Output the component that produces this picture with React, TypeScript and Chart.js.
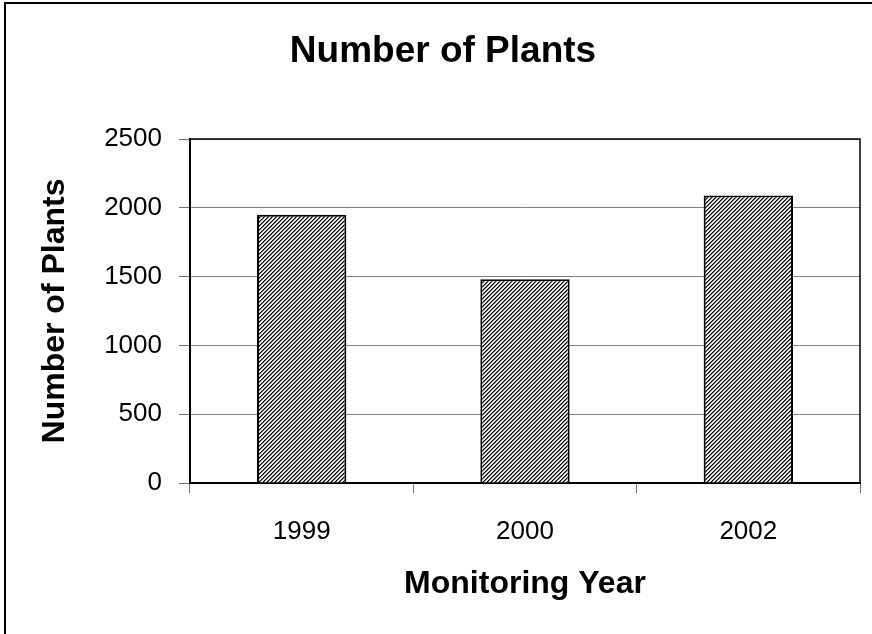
import React, { useEffect, useRef } from "react";
import { Chart, registerables } from "chart.js";

Chart.register(...registerables);

const categories = ["1999", "2000", "2002"];
const plantCounts = [1950, 1480, 2090];
const yTicks = [0, 500, 1000, 1500, 2000, 2500];
const chartTitle = "Number of Plants";
const yTitle = "Number of Plants";
const xTitle = "Monitoring Year";

function makePattern(): CanvasPattern | string {
  const c = document.createElement("canvas");
  c.width = 4;
  c.height = 4;
  const ctx = c.getContext("2d");
  if (!ctx) return "#888";
  const cols = ["#000000", "#707070", "#ffffff", "#d8d8d8"];
  for (let x = 0; x < 4; x++) {
    for (let y = 0; y < 4; y++) {
      ctx.fillStyle = cols[(x + y) % 4];
      ctx.fillRect(x, y, 1, 1);
    }
  }
  return ctx.createPattern(c, "repeat") || "#888";
}

const framePlugin = {
  id: "frame",
  beforeDraw(chart: any) {
    const ctx = chart.ctx;
    ctx.save();
    ctx.fillStyle = "#ffffff";
    ctx.fillRect(0, 0, chart.width, chart.height);
    ctx.strokeStyle = "#000000";
    ctx.lineWidth = 2;
    ctx.strokeRect(5, 3, chart.width + 50, chart.height + 50);
    ctx.restore();
  },
  afterDraw(chart: any) {
    const ctx = chart.ctx;
    const a = chart.chartArea;
    ctx.save();
    ctx.strokeStyle = "#000000";
    ctx.lineWidth = 1.5;
    ctx.beginPath();
    ctx.moveTo(a.left, a.top);
    ctx.lineTo(a.right, a.top);
    ctx.lineTo(a.right, a.bottom);
    ctx.stroke();
    ctx.fillStyle = "#000000";
    ctx.font = "bold 37px 'Liberation Sans', Arial, sans-serif";
    ctx.textAlign = "center";
    ctx.textBaseline = "middle";
    ctx.fillText(chartTitle, 443, 52);
    ctx.restore();
  },
};

export default function App() {
  const ref = useRef<HTMLCanvasElement | null>(null);
  useEffect(() => {
    if (!ref.current) return;
    const font = "'Liberation Sans', Arial, sans-serif";
    const chart = new Chart(ref.current, {
      type: "bar",
      data: {
        labels: categories,
        datasets: [
          {
            data: plantCounts,
            backgroundColor: makePattern() as any,
            borderColor: "#000000",
            borderWidth: 2,
            categoryPercentage: 1,
            barPercentage: 0.4,
          },
        ],
      },
      options: {
        animation: false,
        responsive: false,
        maintainAspectRatio: false,
        layout: { padding: { top: 139, right: 12, left: 0, bottom: 0 } },
        plugins: {
          legend: { display: false },
          tooltip: { enabled: false },
          title: { display: false },
        },
        scales: {
          x: {
            offset: true,
            grid: {
              offset: true,
              drawOnChartArea: false,
              drawTicks: true,
              tickLength: 10,
              tickColor: "#707070",
              tickWidth: 1,
            },
            border: { color: "#000000", width: 2 },
            ticks: {
              color: "#000000",
              font: { family: font, size: 26 },
              padding: 23,
              maxRotation: 0,
            },
            title: {
              display: true,
              text: xTitle,
              color: "#000000",
              font: { family: font, size: 32, weight: "bold" },
              padding: { top: 0, bottom: 31 },
            },
            afterFit(scale: any) {
              scale.height = 151;
            },
          },
          y: {
            min: 0,
            max: 2500,
            afterBuildTicks(scale: any) {
              scale.ticks = yTicks.map((v) => ({ value: v }));
            },
            grid: {
              color: "#808080",
              lineWidth: 1,
              drawTicks: true,
              tickLength: 11,
              tickColor: "#707070",
            },
            border: { color: "#000000", width: 2 },
            ticks: {
              color: "#000000",
              font: { family: font, size: 26 },
              padding: 17,
              callback: (v: any) => String(v),
            },
            title: {
              display: true,
              text: yTitle,
              color: "#000000",
              font: { family: font, size: 32, weight: "bold" },
              padding: { top: 36, bottom: 0 },
            },
            afterFit(scale: any) {
              scale.width = 190;
            },
          },
        },
      },
      plugins: [framePlugin],
    } as any);
    return () => chart.destroy();
  }, []);
  return (
    <div style={{ position: "absolute", left: 0, top: 0, width: 872, height: 634, background: "#fff" }}>
      <canvas ref={ref} width={872} height={634} style={{ width: 872, height: 634, display: "block" }} />
    </div>
  );
}
